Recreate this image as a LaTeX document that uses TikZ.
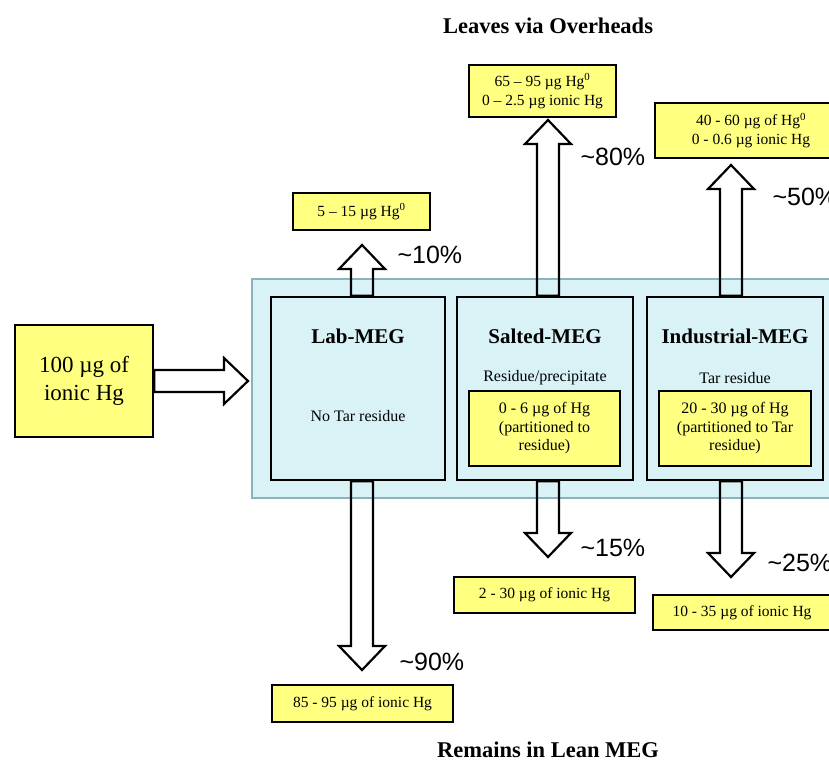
\documentclass[tikz,border=0pt]{standalone}
\usepackage{fontspec}
\setmainfont{Liberation Serif}
\setsansfont{Liberation Sans}
\usetikzlibrary{calc}
\definecolor{hgyellow}{HTML}{FFFF80}
\definecolor{megblue}{HTML}{D9F2F6}
\definecolor{megedge}{HTML}{8CB3B9}
\begin{document}
\begin{tikzpicture}[x=1pt, y=-1pt,
  yellowbox/.style={draw, line width=2.5pt, fill=hgyellow, inner sep=0pt, align=center, font=\fontsize{15.5}{19}\selectfont},
  megbox/.style={draw, line width=2.5pt, fill=megblue, inner sep=0pt, minimum height=183pt},
  megname/.style={font=\bfseries\fontsize{21}{25}\selectfont},
  megnote/.style={font=\fontsize{16}{19}\selectfont},
  pct/.style={anchor=west, font=\sffamily\fontsize{25}{30}\selectfont},
  heading/.style={font=\bfseries\fontsize{22.5}{27}\selectfont},
  fat/.style={line width=2.2pt, line join=miter, to path={
    ($(\tikztostart)!11pt!-90:(\tikztotarget)$)
    -- ($(\tikztotarget)!24pt!(\tikztostart)!11pt!90:(\tikztostart)$)
    -- ($(\tikztotarget)!24pt!(\tikztostart)!23pt!90:(\tikztostart)$)
    -- (\tikztotarget)
    -- ($(\tikztotarget)!24pt!(\tikztostart)!23pt!-90:(\tikztostart)$)
    -- ($(\tikztotarget)!24pt!(\tikztostart)!11pt!-90:(\tikztostart)$)
    -- ($(\tikztostart)!11pt!90:(\tikztotarget)$) -- cycle}}]
\path[use as bounding box, clip] (0,0) rectangle (829,763);

\node[heading] (leaves) at (548,26) {Leaves via Overheads};
\node[heading] (remains) at (548,750) {Remains in Lean MEG};

\node[draw, line width=2.5pt, fill=hgyellow, minimum width=138pt, minimum height=112pt, align=center, font=\fontsize{23}{28}\selectfont] (feed) at (84,381) {100 µg of\\ionic Hg};

\node[draw=megedge, line width=1.5pt, fill=megblue, minimum width=600pt, minimum height=219pt] (plant) at (552,388.5) {};

\node[megbox, minimum width=174pt] (lab) at (358,388.5) {};
\node[megbox, minimum width=176pt] (salt) at (545,388.5) {};
\node[megbox, minimum width=176pt] (ind) at (735,388.5) {};

\node[megname] (labname) at (358,336) {Lab-MEG};
\node[megname] (saltname) at (545,336) {Salted-MEG};
\node[megname] (indname) at (735,336) {Industrial-MEG};
\node[megnote] (labnote) at (358,416) {No Tar residue};
\node[megnote] (saltnote) at (545,378) {Residue/precipitate};
\node[megnote] (indnote) at (735,378) {Tar residue};

\node[yellowbox, minimum width=151pt, minimum height=75pt, font=\fontsize{16}{18.5}\selectfont] (saltres) at (544.5,428.5) {0 - 6 µg of Hg\\(partitioned to\\residue)};
\node[yellowbox, minimum width=152pt, minimum height=75pt, font=\fontsize{16}{18.5}\selectfont] (indres) at (735,428.5) {20 - 30 µg of Hg\\(partitioned to Tar\\residue)};

\node[yellowbox, minimum width=137pt, minimum height=37pt] (labtop) at (361.5,211.5) {5 – 15 µg Hg\textsuperscript{0}};
\node[yellowbox, minimum width=147pt, minimum height=52pt] (salttop) at (542.5,91) {65 – 95 µg Hg\textsuperscript{0}\\0 – 2.5 µg ionic Hg};
\node[yellowbox, minimum width=192pt, minimum height=55pt] (indtop) at (751,130.5) {40 - 60 µg of Hg\textsuperscript{0}\\0 - 0.6 µg ionic Hg};

\node[yellowbox, minimum width=181pt, minimum height=37pt] (labbot) at (362.5,703.5) {85 - 95 µg of ionic Hg};
\node[yellowbox, minimum width=181pt, minimum height=36pt] (saltbot) at (544.5,595) {2 - 30 µg of ionic Hg};
\node[yellowbox, minimum width=178pt, minimum height=35pt] (indbot) at (742,612.5) {10 - 35 µg of ionic Hg};

% arrow tips
\coordinate (feedtip) at (248,381);
\coordinate (labup) at (362,245);
\coordinate (saltup) at (548,120);
\coordinate (indup) at (731,165);
\coordinate (labdown) at (362,670);
\coordinate (saltdown) at (548,557);
\coordinate (inddown) at (731,577);

\draw[fat] (feed.east) to (feedtip);
\draw[fat] (labup |- lab.north) to (labup);
\draw[fat] (saltup |- salt.north) to (saltup);
\draw[fat] (indup |- ind.north) to (indup);
\draw[fat] (labdown |- lab.south) to (labdown);
\draw[fat] (saltdown |- salt.south) to (saltdown);
\draw[fat] (inddown |- ind.south) to (inddown);

\node[pct] (p10) at (394,255) {\textasciitilde10\%};
\node[pct] (p80) at (577,157) {\textasciitilde80\%};
\node[pct] (p50) at (769,197) {\textasciitilde50\%};
\node[pct] (p15) at (577,548) {\textasciitilde15\%};
\node[pct] (p25) at (764,563) {\textasciitilde25\%};
\node[pct] (p90) at (396,662) {\textasciitilde90\%};
\end{tikzpicture}
\end{document}
